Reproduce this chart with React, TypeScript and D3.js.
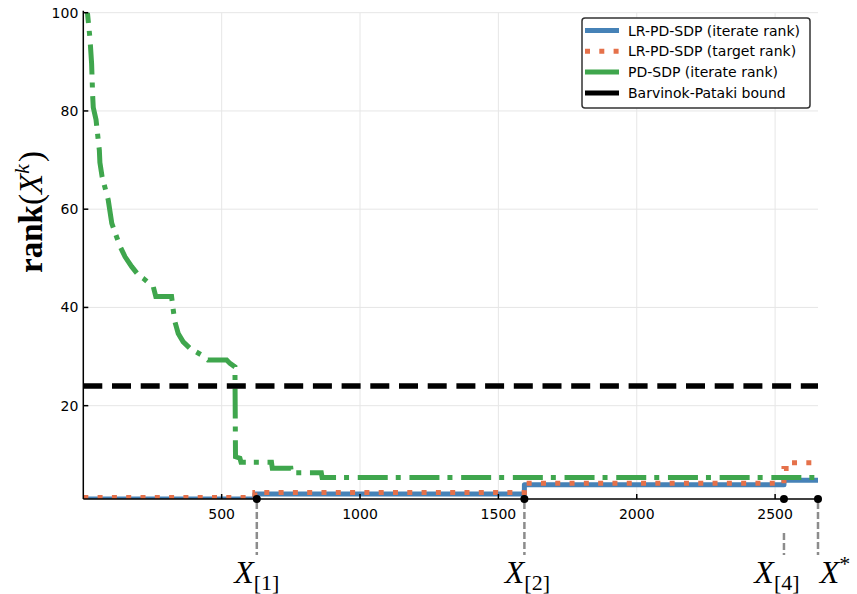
import React, { useRef, useEffect } from 'react';
import * as d3 from 'd3';

// axis setup
const xMax = 2655;
const yMin = 1;
const yMax = 100;
const xTicks = [500, 1000, 1500, 2000, 2500];
const yTicks = [20, 40, 60, 80, 100];

// LR-PD-SDP iterate rank (step after)
const lrIterX = [0, 620, 1594, 2532, 2655];
const lrIterRank = [1, 2, 3.9, 4.8, 4.8];

// LR-PD-SDP target rank (step after)
const lrTargetX = [0, 620, 1594, 2532, 2560, 2655];
const lrTargetRank = [1.3, 2.3, 4.2, 7.2, 8.4, 8.4];

// PD-SDP iterate rank
const pdX = [8, 24, 30, 34, 36, 46, 58, 60, 68, 90, 103, 133, 151, 175, 199, 217, 253, 262, 319, 325, 331, 343, 361, 385, 428, 450, 518, 530, 548, 550, 566, 570, 680, 683, 750, 752, 860, 863, 2655];
const pdRank = [104, 94.8, 89.7, 82.9, 80.7, 78.2, 72, 69.5, 66.6, 61.9, 57.1, 52.4, 50.3, 48.3, 46.6, 45.9, 44.2, 42.2, 42.2, 39.5, 37.1, 34.7, 33, 31.7, 30.3, 29.3, 29.3, 28.6, 27.9, 9.6, 9.3, 8.5, 8.5, 7.25, 7.25, 6.35, 6.35, 5.4, 5.4];

const bpBound = 24;

// special iterates marked under the axis
const markerX = [627, 1594, 2532, 2655];
const markerSub = ['[1]', '[2]', '[4]', ''];
const markerSup = ['', '', '', '*'];

const legendLabels = ['LR-PD-SDP (iterate rank)', 'LR-PD-SDP (target rank)', 'PD-SDP (iterate rank)', 'Barvinok-Pataki bound'];

const BLUE = '#4682b7';
const ORANGE = '#e5714a';
const GREEN = '#3fa64d';

const RankChart = () => {
  const svgRef = useRef(null);

  useEffect(() => {
    document.body.style.margin = '0';
    const svg = d3.select(svgRef.current);
    svg.selectAll('*').remove();

    const left = 83.3, right = 818, top = 12.7, bottom = 499;
    const x = d3.scaleLinear().domain([0, xMax]).range([left, right]);
    const y = d3.scaleLinear().domain([yMin, yMax]).range([bottom, top]);

    svg.append('defs').append('clipPath').attr('id', 'plot-clip')
      .append('rect').attr('x', left).attr('y', top).attr('width', right - left).attr('height', bottom - top);

    // grid
    const grid = svg.append('g').style('stroke', '#e6e6e6').style('stroke-width', 1);
    xTicks.forEach((t) => {
      grid.append('line').attr('x1', x(t)).attr('x2', x(t)).attr('y1', top).attr('y2', bottom);
    });
    yTicks.forEach((t) => {
      grid.append('line').attr('x1', left).attr('x2', right).attr('y1', y(t)).attr('y2', y(t));
    });

    const plot = svg.append('g').attr('clip-path', 'url(#plot-clip)');

    const stepLine = d3.line().curve(d3.curveStepAfter).x((d) => x(d[0])).y((d) => y(d[1]));
    const polyLine = d3.line().x((d) => x(d[0])).y((d) => y(d[1]));

    plot.append('path')
      .datum(lrIterX.map((v, i) => [v, lrIterRank[i]]))
      .attr('d', stepLine)
      .attr('fill', 'none').attr('stroke', BLUE).attr('stroke-width', 5)
      .attr('stroke-linejoin', 'round');

    plot.append('path')
      .datum(lrTargetX.map((v, i) => [v, lrTargetRank[i]]))
      .attr('d', stepLine)
      .attr('fill', 'none').attr('stroke', ORANGE).attr('stroke-width', 5)
      .attr('stroke-dasharray', '5 9.3');

    plot.append('path')
      .datum(pdX.map((v, i) => [v, pdRank[i]]))
      .attr('d', polyLine)
      .attr('fill', 'none').attr('stroke', GREEN).attr('stroke-width', 5)
      .attr('stroke-dasharray', '30 8 5 8.7');

    plot.append('line')
      .attr('x1', left).attr('x2', right).attr('y1', y(bpBound)).attr('y2', y(bpBound))
      .attr('stroke', '#000').attr('stroke-width', 5.5).attr('stroke-dasharray', '19 9.7');

    // axes
    const axes = svg.append('g').style('stroke', '#000').style('stroke-width', 1.5);
    axes.append('line').attr('x1', left).attr('x2', left).attr('y1', top - 2).attr('y2', bottom);
    axes.append('line').attr('x1', left).attr('x2', right).attr('y1', bottom).attr('y2', bottom);
    xTicks.forEach((t) => {
      axes.append('line').attr('x1', x(t)).attr('x2', x(t)).attr('y1', bottom).attr('y2', bottom - 5);
    });
    yTicks.forEach((t) => {
      axes.append('line').attr('x1', left).attr('x2', left + 5).attr('y1', y(t)).attr('y2', y(t));
    });

    const tickFont = 'DejaVu Sans, sans-serif';
    xTicks.forEach((t) => {
      svg.append('text').attr('x', x(t)).attr('y', 519).attr('text-anchor', 'middle')
        .style('font-family', tickFont).style('font-size', '14px').text(t);
    });
    yTicks.forEach((t) => {
      svg.append('text').attr('x', left - 5).attr('y', y(t) + 5).attr('text-anchor', 'end')
        .style('font-family', tickFont).style('font-size', '14px').text(t);
    });

    // y label
    const yl = svg.append('text')
      .attr('transform', 'translate(42,212) rotate(-90)')
      .attr('text-anchor', 'middle')
      .style('font-family', 'Liberation Serif, serif').style('font-size', '33px');
    yl.append('tspan').style('font-weight', 'bold').text('rank');
    yl.append('tspan').text('(');
    yl.append('tspan').style('font-style', 'italic').text('X');
    yl.append('tspan').style('font-style', 'italic').style('font-size', '22px').attr('dy', -13).text('k');
    yl.append('tspan').attr('dy', 13).attr('dx', 2).text(')');

    // markers
    const mk = svg.append('g');
    markerX.forEach((m, i) => {
      const top0 = i === 2 ? 533 : bottom + 3;
      mk.append('line').attr('x1', x(m)).attr('x2', x(m)).attr('y1', top0).attr('y2', 555)
        .attr('stroke', '#8c8c8c').attr('stroke-width', 2.5).attr('stroke-dasharray', '7 3');
      mk.append('circle').attr('cx', x(m)).attr('cy', bottom).attr('r', 4).attr('fill', '#000');
      const shift = [0, 3, -7, 17][i];
      const lbl = mk.append('text').attr('x', x(m) + shift).attr('y', 583).attr('text-anchor', 'middle')
        .style('font-family', 'Liberation Serif, serif').style('font-size', '32px');
      lbl.append('tspan').style('font-style', 'italic').text('X');
      if (markerSub[i]) lbl.append('tspan').style('font-size', '22px').attr('dy', 7).text(markerSub[i]);
      if (markerSup[i]) lbl.append('tspan').style('font-size', '22px').attr('dy', -12).text(markerSup[i]);
    });

    // legend
    const lg = svg.append('g');
    lg.append('rect').attr('x', 582).attr('y', 18).attr('width', 228).attr('height', 90).attr('rx', 3)
      .attr('fill', '#fff').attr('stroke', '#333').attr('stroke-width', 1.5);
    const styles = [
      { c: BLUE, d: null, w: 5 },
      { c: ORANGE, d: '5 9.3', w: 5 },
      { c: GREEN, d: null, w: 5 },
      { c: '#000', d: null, w: 5 },
    ];
    legendLabels.forEach((s, i) => {
      const ly = 30.5 + i * 20.8;
      lg.append('line').attr('x1', 585).attr('x2', 619).attr('y1', ly).attr('y2', ly)
        .attr('stroke', styles[i].c).attr('stroke-width', styles[i].w)
        .attr('stroke-dasharray', styles[i].d);
      lg.append('text').attr('x', 628).attr('y', ly + 5)
        .style('font-family', tickFont).style('font-size', '14px').text(s);
    });
  }, []);

  return <svg ref={svgRef} width={857} height={594} style={{ display: 'block', background: '#fff' }} />;
};

export default function App() {
  return <RankChart />;
}
